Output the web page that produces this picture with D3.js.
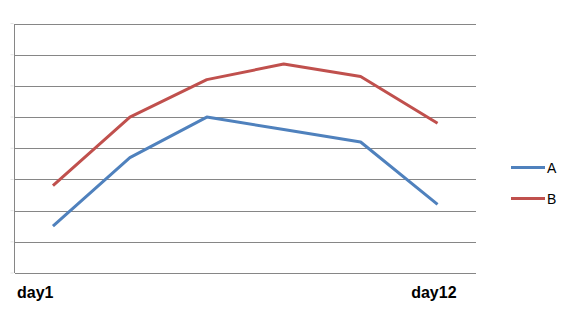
<!DOCTYPE html>
<html>
<head>
<meta charset="utf-8">
<script src="https://cdn.jsdelivr.net/npm/d3@7"></script>
<style>
  body{margin:0;background:#fff;}
  svg{display:block;}
</style>
</head>
<body>
<svg id="chart" width="569" height="316"></svg>
<script>
// values
var points=[0,1,2,3,4,5];
var tickLabels=["day1","","","","","day12"];
var seriesNames=["A","B"];
var valuesA=[1.5,3.7,5.0,4.6,4.2,2.2];
var valuesB=[2.8,5.0,6.2,6.7,6.3,4.8];
var yTicks=[0,1,2,3,4,5,6,7,8];

var colors={A:"#4F81BD",B:"#C0504D"};
var margin={top:23.5,left:14.5,right:93,bottom:43};
var width=569-margin.left-margin.right;
var height=316-margin.top-margin.bottom;

var svg=d3.select("#chart");
var g=svg.append("g")
    .attr("transform","translate("+margin.left+","+margin.top+")");

var x=d3.scaleBand()
    .domain(points)
    .range([0,width]);
var y=d3.scaleLinear()
    .domain([0,8])
    .range([height,0]);

// gridlines
var grid=g.append("g")
    .call(d3.axisLeft(y).tickValues(yTicks).tickSize(-width).tickFormat(""));
grid.select(".domain").remove();
grid.selectAll(".tick line")
    .attr("stroke","#868686")
    .attr("shape-rendering","crispEdges");

// faint tick stubs on left
g.append("g").selectAll("line")
    .data(yTicks)
    .enter().append("line")
    .attr("x1",-4).attr("x2",-1)
    .attr("y1",function(d){return y(d);})
    .attr("y2",function(d){return y(d);})
    .attr("stroke","#e4e4e4");

// left axis line
g.append("line")
    .attr("x1",0).attr("x2",0)
    .attr("y1",0).attr("y2",height)
    .attr("stroke","#868686")
    .attr("shape-rendering","crispEdges");

var line=d3.line()
    .x(function(d,i){return x(points[i])+x.bandwidth()/2;})
    .y(function(d){return y(d);});

var series=[{name:"A",values:valuesA},{name:"B",values:valuesB}];

g.selectAll("path.series")
    .data(series)
    .enter().append("path")
    .attr("class","series")
    .attr("d",function(d){return line(d.values);})
    .attr("fill","none")
    .attr("stroke",function(d){return colors[d.name];})
    .attr("stroke-width",3)
    .attr("stroke-linejoin","round");

// category labels (only first and last shown)
g.append("text")
    .attr("x",2.5)
    .attr("y",height+25)
    .attr("text-anchor","start")
    .style("font-family","'Liberation Sans',Arial,sans-serif")
    .style("font-weight","bold")
    .style("font-size","16px")
    .text(tickLabels[0]);
g.append("text")
    .attr("x",x(points[5])+x.bandwidth()/2+19)
    .attr("y",height+25)
    .attr("text-anchor","end")
    .style("font-family","'Liberation Sans',Arial,sans-serif")
    .style("font-weight","bold")
    .style("font-size","16px")
    .text(tickLabels[5]);

// legend
var legend=svg.append("g").attr("transform","translate(511,167.5)");
var item=legend.selectAll("g")
    .data(seriesNames)
    .enter().append("g")
    .attr("transform",function(d,i){return "translate(0,"+(i*31)+")";});
item.append("line")
    .attr("x1",0).attr("x2",34)
    .attr("stroke",function(d){return colors[d];})
    .attr("stroke-width",3);
item.append("text")
    .attr("x",36)
    .attr("y",5)
    .style("font-family","'Liberation Sans',Arial,sans-serif")
    .style("font-size","14px")
    .text(function(d){return d;});
</script>
</body>
</html>
